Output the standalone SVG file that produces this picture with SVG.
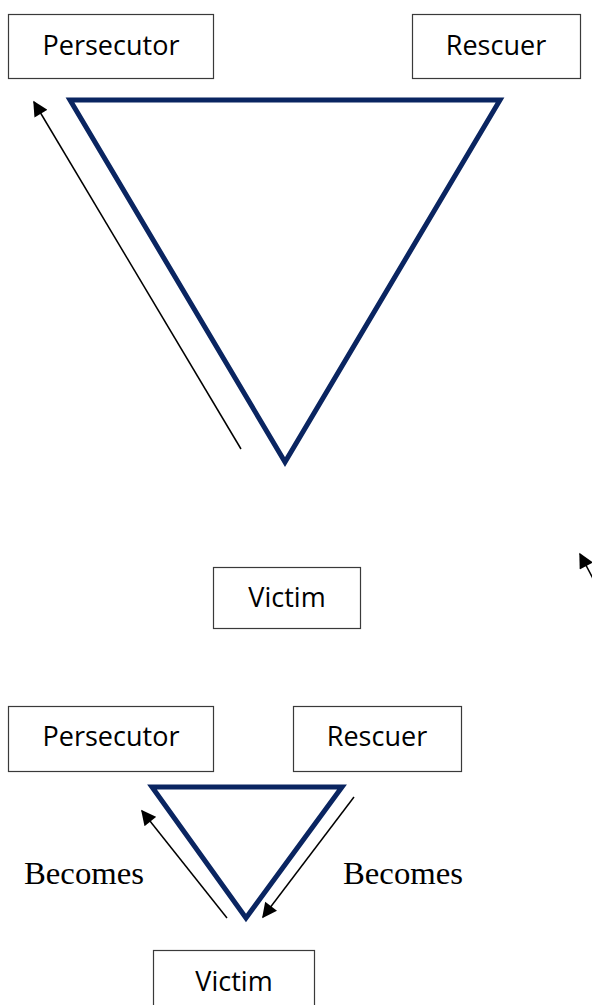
<svg xmlns="http://www.w3.org/2000/svg" width="592" height="1005" viewBox="0 0 592 1005">
<style>
.box{fill:#fff;stroke:#3a3a3a;stroke-width:1.2}
.lbl{font-family:"Open Sans","Liberation Sans",sans-serif;font-size:27px;fill:#000;text-anchor:middle}
.ser{font-family:"Liberation Serif","DejaVu Serif",serif;font-size:32px;fill:#000}
.tri{fill:none;stroke:#0a2561;stroke-width:5;stroke-linejoin:miter}
.arr{stroke:#000;stroke-width:1.5;fill:none}
</style>
<defs>
<marker id="ah2" viewBox="0 0 10 10" refX="9" refY="5" markerWidth="16" markerHeight="15" markerUnits="userSpaceOnUse" orient="auto">
<path d="M0,0 L10,5 L0,10 z" fill="#000"/>
</marker>
</defs>
<g id="shapes">
<polygon class="tri" points="70,100 500,100 285,462"/>
<polygon class="tri" points="152,787 342,787 246,918"/>
</g>
<g id="connectors">
<line class="arr" x1="241" y1="449" x2="34" y2="102" marker-end="url(#ah2)"/>
<line class="arr" x1="598" y1="588" x2="580" y2="554" marker-end="url(#ah2)"/>
<line class="arr" x1="227" y1="918" x2="142" y2="811" marker-end="url(#ah2)"/>
<line class="arr" x1="354" y1="797" x2="263" y2="917" marker-end="url(#ah2)"/>
</g>
<g id="persecutor1"><rect class="box" x="8.5" y="14.5" width="205" height="64"/><text class="lbl" x="111" y="55">Persecutor</text></g>
<g id="rescuer1"><rect class="box" x="412.5" y="14.5" width="168" height="64"/><text class="lbl" x="496" y="55">Rescuer</text></g>
<g id="victim1"><rect class="box" x="213.5" y="567.5" width="147" height="61"/><text class="lbl" x="287" y="607">Victim</text></g>
<g id="persecutor2"><rect class="box" x="8.5" y="706.5" width="205" height="65"/><text class="lbl" x="111" y="746">Persecutor</text></g>
<g id="rescuer2"><rect class="box" x="293.5" y="706.5" width="168" height="65"/><text class="lbl" x="377" y="746">Rescuer</text></g>
<g id="victim2"><rect class="box" x="153.5" y="950.5" width="161" height="60"/><text class="lbl" x="234" y="991">Victim</text></g>
<g id="labels">
<text class="ser" x="24" y="884" textLength="120" lengthAdjust="spacingAndGlyphs">Becomes</text>
<text class="ser" x="343" y="884" textLength="120" lengthAdjust="spacingAndGlyphs">Becomes</text>
</g>
</svg>
